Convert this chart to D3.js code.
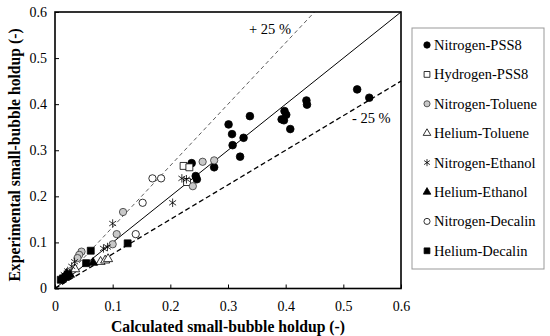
<!DOCTYPE html>
<html>
<head>
<meta charset="utf-8">
<script src="https://d3js.org/d3.v7.min.js"></script>
<style>
  body { margin: 0; background: #fff; }
  text { font-family: "Liberation Serif", "Times New Roman", serif; }
</style>
</head>
<body>
<div id="output"></div>
<script>
    var width = 550, height = 336;
    var plotLeft = 55, plotRight = 401, plotTop = 12, plotBottom = 288.5;

    // data: [calculated, experimental]
    var seriesNames = ['Nitrogen-PSS8', 'Hydrogen-PSS8', 'Nitrogen-Toluene', 'Helium-Toluene',
                       'Nitrogen-Ethanol', 'Helium-Ethanol', 'Nitrogen-Decalin', 'Helium-Decalin'];

    var nitrogenPSS8 = [[0.524, 0.432], [0.545, 0.414], [0.436, 0.408], [0.437, 0.399],
        [0.398, 0.385], [0.401, 0.377], [0.393, 0.367], [0.397, 0.365], [0.408, 0.346],
        [0.338, 0.374], [0.301, 0.356], [0.307, 0.335], [0.327, 0.327], [0.308, 0.311],
        [0.321, 0.286], [0.276, 0.263], [0.237, 0.272], [0.244, 0.244], [0.246, 0.237]];
    var hydrogenPSS8 = [[0.223, 0.266], [0.233, 0.263], [0.229, 0.231]];
    var nitrogenToluene = [[0.276, 0.278], [0.256, 0.275], [0.239, 0.222], [0.118, 0.166],
        [0.107, 0.118], [0.100, 0.096], [0.046, 0.080], [0.042, 0.073], [0.039, 0.066]];
    var heliumToluene = [[0.079, 0.058], [0.087, 0.061], [0.092, 0.064], [0.035, 0.042]];
    var nitrogenEthanol = [[0.220, 0.239], [0.228, 0.237], [0.204, 0.186], [0.100, 0.141],
        [0.084, 0.087], [0.091, 0.090], [0.034, 0.058], [0.029, 0.048], [0.022, 0.038],
        [0.016, 0.030]];
    var heliumEthanol = [[0.066, 0.056], [0.020, 0.032], [0.026, 0.030], [0.017, 0.026]];
    var nitrogenDecalin = [[0.169, 0.239], [0.184, 0.239], [0.152, 0.186], [0.140, 0.118]];
    var heliumDecalin = [[0.126, 0.098], [0.062, 0.082], [0.054, 0.055], [0.010, 0.019],
        [0.014, 0.022], [0.018, 0.025], [0.022, 0.028]];

    var seriesData = [nitrogenPSS8, hydrogenPSS8, nitrogenToluene, heliumToluene,
                      nitrogenEthanol, heliumEthanol, nitrogenDecalin, heliumDecalin];

    var ticks = [0, 0.1, 0.2, 0.3, 0.4, 0.5, 0.6];

    var svg = d3.select('#output').append('svg')
        .attr('width', width)
        .attr('height', height);

    var x = d3.scaleLinear().domain([0, 0.6]).range([plotLeft, plotRight]);
    var y = d3.scaleLinear().domain([0, 0.6]).range([plotBottom, plotTop]);
    var fmt = function(d) { return d === 0 ? '0' : d.toFixed(1); };

    // axes, ticks pointing in
    var xAxis = svg.append('g')
        .attr('transform', 'translate(0,' + plotBottom + ')')
        .call(d3.axisBottom(x).tickValues(ticks).tickFormat(fmt).tickSizeInner(-4).tickSizeOuter(0).tickPadding(13));
    var yAxis = svg.append('g')
        .attr('transform', 'translate(' + plotLeft + ',0)')
        .call(d3.axisLeft(y).tickValues(ticks).tickFormat(fmt).tickSizeInner(-4).tickSizeOuter(0).tickPadding(8));
    [xAxis, yAxis].forEach(function(g) {
        g.select('.domain').remove();
        g.selectAll('text').attr('font-size', 14).attr('fill', '#000')
            .style('font-family', '"Liberation Serif", serif');
        g.selectAll('line').attr('stroke', '#000');
    });

    // reference lines
    var lineGen = d3.line().x(function(d) { return x(d[0]); }).y(function(d) { return y(d[1]); });
    svg.append('path').attr('d', lineGen([[0, 0], [0.6, 0.6]]))
        .attr('stroke', '#000').attr('stroke-width', 1).attr('fill', 'none');
    svg.append('path').attr('d', lineGen([[0, 0], [0.6 * 0.75, 0.6]]))
        .attr('stroke', '#333').attr('stroke-width', 0.8).attr('stroke-dasharray', '4,3').attr('fill', 'none');
    svg.append('path').attr('d', lineGen([[0, 0], [0.6, 0.6 * 0.75]]))
        .attr('stroke', '#000').attr('stroke-width', 1.3).attr('stroke-dasharray', '5,3').attr('fill', 'none');

    svg.append('text').attr('x', 249).attr('y', 34).attr('font-size', 14.5).text('+ 25 %');
    svg.append('text').attr('x', 352).attr('y', 123).attr('font-size', 14.5).text('- 25 %');

    // markers
    var asterisk = {
        draw: function(ctx, size) {
            var r = Math.sqrt(size) / 2;
            [90, 35, 145].forEach(function(a) {
                var dx = r * Math.cos(a * Math.PI / 180), dy = r * Math.sin(a * Math.PI / 180);
                ctx.moveTo(-dx, -dy);
                ctx.lineTo(dx, dy);
            });
        }
    };
    var styles = [
        {type: d3.symbolCircle, size: 46, fill: '#000', stroke: '#000'},
        {type: d3.symbolSquare, size: 48, fill: '#fff', stroke: '#000'},
        {type: d3.symbolCircle, size: 42, fill: '#c8c8c8', stroke: '#333'},
        {type: d3.symbolTriangle, size: 36, fill: '#fff', stroke: '#000'},
        {type: asterisk, size: 72, fill: 'none', stroke: '#000'},
        {type: d3.symbolTriangle, size: 36, fill: '#000', stroke: '#000'},
        {type: d3.symbolCircle, size: 42, fill: '#fff', stroke: '#000'},
        {type: d3.symbolSquare, size: 48, fill: '#000', stroke: '#000'}
    ];

    seriesData.forEach(function(pts, i) {
        var s = styles[i];
        svg.append('g').selectAll('path').data(pts).enter().append('path')
            .attr('transform', function(d) { return 'translate(' + x(d[0]) + ',' + y(d[1]) + ')'; })
            .attr('d', d3.symbol().type(s.type).size(s.size))
            .attr('fill', s.fill)
            .attr('stroke', s.stroke)
            .attr('stroke-width', 0.8);
    });

    // frame
    svg.append('rect')
        .attr('x', plotLeft).attr('y', plotTop)
        .attr('width', plotRight - plotLeft).attr('height', plotBottom - plotTop)
        .attr('fill', 'none').attr('stroke', '#000').attr('stroke-width', 1.6);

    // axis titles
    svg.append('text')
        .attr('x', (plotLeft + plotRight) / 2).attr('y', 332)
        .attr('text-anchor', 'middle').attr('font-size', 15.7).attr('font-weight', 'bold')
        .text('Calculated small-bubble holdup (-)');
    svg.append('text')
        .attr('transform', 'translate(20,155) rotate(-90)')
        .attr('text-anchor', 'middle').attr('font-size', 15.7).attr('font-weight', 'bold')
        .text('Experimental small-bubble holdup (-)');

    // legend
    var legend = svg.append('g');
    legend.append('rect')
        .attr('x', 412).attr('y', 28).attr('width', 132).attr('height', 241)
        .attr('fill', '#fff').attr('stroke', '#999').attr('stroke-width', 1);
    seriesNames.forEach(function(name, i) {
        var s = styles[i];
        var cy = 45 + i * 29.4;
        legend.append('path')
            .attr('transform', 'translate(427,' + cy + ')')
            .attr('d', d3.symbol().type(s.type).size(s.size * 0.7))
            .attr('fill', s.fill).attr('stroke', s.stroke).attr('stroke-width', 0.8);
        legend.append('text')
            .attr('x', 434).attr('y', cy).attr('dy', '0.35em')
            .attr('font-size', 14.5).text(name);
    });
</script>
</body>
</html>
